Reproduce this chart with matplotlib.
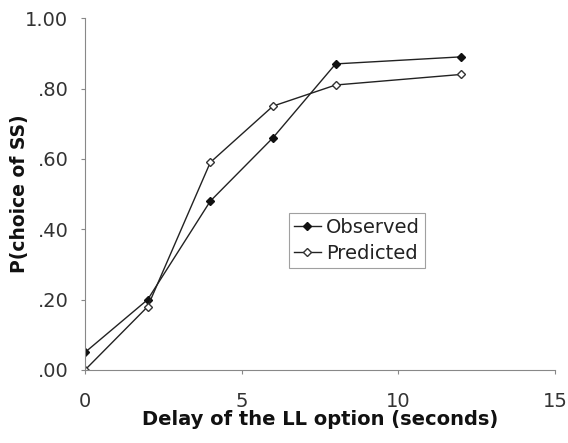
import matplotlib
matplotlib.use("Agg")
import matplotlib.pyplot as plt
from matplotlib.ticker import FuncFormatter

# Delay of the larger-later option (seconds)
delays = [0, 2, 4, 6, 8, 12]
# Proportion of smaller-sooner choices
observed = [0.05, 0.20, 0.48, 0.66, 0.87, 0.89]
predicted = [0.00, 0.18, 0.59, 0.75, 0.81, 0.84]

x_ticks = [0, 5, 10, 15]
y_ticks = [0.0, 0.2, 0.4, 0.6, 0.8, 1.0]

plt.rcParams["font.family"] = ["DejaVu Sans"]

fig = plt.figure(figsize=(5.68, 4.43), dpi=100)
ax = fig.add_axes([0.1496, 0.1648, 0.8274, 0.7942])

ax.plot(delays, observed, color="#222222", lw=1.0, marker="D", ms=4,
        mfc="#111111", mec="#111111", label="Observed")
ax.plot(delays, predicted, color="#222222", lw=1.0, marker="D", ms=4,
        mfc="white", mec="#333333", mew=1.0, label="Predicted")

ax.set_xlim(0, 15)
ax.set_ylim(0, 1.0)
ax.set_xticks(x_ticks)
ax.set_yticks(y_ticks)


def prob_fmt(v, _):
    s = f"{v:.2f}"
    return s[1:] if s.startswith("0") else s


ax.yaxis.set_major_formatter(FuncFormatter(prob_fmt))

for side in ("top", "right"):
    ax.spines[side].set_visible(False)
for side in ("left", "bottom"):
    ax.spines[side].set_color("#888888")
    ax.spines[side].set_linewidth(0.8)

ax.tick_params(axis="both", direction="out", length=3, width=0.8,
               color="#888888", labelsize=14, labelcolor="#333333")
ax.tick_params(axis="y", pad=9)
ax.tick_params(axis="x", pad=13)

ax.set_xlabel("Delay of the LL option (seconds)", fontsize=14,
              fontweight="bold", color="#111111", labelpad=-1)
ax.set_ylabel("P(choice of SS)", fontsize=13.5, fontweight="bold",
              color="#111111", labelpad=-2.5)

leg = ax.legend(loc="upper left", bbox_to_anchor=(0.434, 0.446),
                fontsize=14, frameon=True, fancybox=False,
                handlelength=1.4, handletextpad=0.25, borderpad=0.25,
                labelspacing=0.35, borderaxespad=0)
leg.get_frame().set_edgecolor("#888888")
leg.get_frame().set_linewidth(0.8)
for txt in leg.get_texts():
    txt.set_color("#222222")

fig.savefig("out.png", dpi=100)
